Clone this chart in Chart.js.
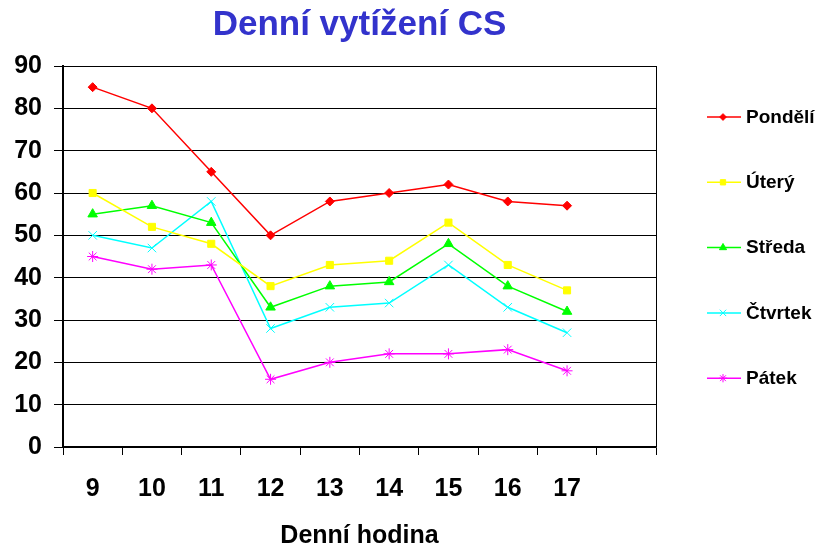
<!DOCTYPE html>
<html lang="cs">
<head>
<meta charset="utf-8">
<title>Denní vytížení CS</title>
<script src="https://cdn.jsdelivr.net/npm/chart.js@4/dist/chart.umd.min.js"></script>
<style>
  html, body { margin: 0; padding: 0; background: #fff; }
  #wrap { width: 818px; height: 547px; }
</style>
</head>
<body>
<div id="wrap"><canvas id="load-chart"></canvas></div>
<script>
'use strict';

// hodiny (poslední kategorie je prázdná, jako v originálu)
const hours    = ['9', '10', '11', '12', '13', '14', '15', '16', '17', ''];
const dayNames = ['Pondělí', 'Úterý', 'Středa', 'Čtvrtek', 'Pátek'];
const pondeli  = [85, 80, 65, 50, 58, 60, 62, 58, 57];
const utery    = [60, 52, 48, 38, 43, 44, 53, 43, 37];
const streda   = [55, 57, 53, 33, 38, 39, 48, 38, 32];
const ctvrtek  = [50, 47, 58, 28, 33, 34, 43, 33, 27];
const patek    = [45, 42, 43, 16, 20, 22, 22, 23, 18];
const yMin = 0, yMax = 90, yStep = 10;

const FONT = '"Liberation Sans", Arial, sans-serif';
const colors  = ['#FF0000', '#FFFF00', '#00FF00', '#00FFFF', '#FF00FF'];
const markers = ['rectRot', 'rect', 'triangle', 'crossRot', 'star'];
const radii   = [4.5, 5, 5.5, 6, 5.5];

// legenda s čárou a značkou (Excel styl) + pravý okraj grafu
const lineLegend = {
  id: 'lineLegend',
  afterDraw(chart) {
    const { ctx, chartArea } = chart;
    ctx.save();
    ctx.strokeStyle = '#000';
    ctx.lineWidth = 1;
    ctx.beginPath();
    ctx.moveTo(chartArea.right + 0.5, chartArea.top);
    ctx.lineTo(chartArea.right + 0.5, chartArea.bottom);
    ctx.stroke();

    const x0 = chartArea.right + 51;
    chart.data.datasets.forEach((ds, i) => {
      const y = chartArea.top + 51 + i * 65.3;
      ctx.strokeStyle = ds.borderColor;
      ctx.fillStyle = ds.borderColor;
      ctx.lineWidth = 1.5;
      ctx.beginPath();
      ctx.moveTo(x0, y);
      ctx.lineTo(x0 + 34, y);
      ctx.stroke();
      ctx.lineWidth = 1;
      Chart.helpers.drawPoint(ctx, { pointStyle: ds.pointStyle, radius: ds.pointRadius * 0.75, rotation: 0, borderWidth: 1 }, x0 + 16, y);
      ctx.fillStyle = '#000';
      ctx.font = 'bold 19px ' + FONT;
      ctx.textAlign = 'left';
      ctx.textBaseline = 'middle';
      ctx.fillText(ds.label, x0 + 39, y + 0.5);
    });
    ctx.restore();
  }
};

function makeDataset(i, values) {
  return {
    label: dayNames[i],
    data: values,
    borderColor: colors[i],
    backgroundColor: colors[i],
    pointBackgroundColor: colors[i],
    pointBorderColor: colors[i],
    borderWidth: 1.5,
    pointStyle: markers[i],
    pointRadius: radii[i],
    pointBorderWidth: 1,
    tension: 0
  };
}

new Chart(document.getElementById('load-chart'), {
  type: 'line',
  data: {
    labels: hours,
    datasets: [pondeli, utery, streda, ctvrtek, patek].map((v, i) => makeDataset(i, v))
  },
  options: {
    responsive: true, maintainAspectRatio: false, animation: false,
    layout: { padding: { left: 0, right: 162, top: 0, bottom: 0 } },
    plugins: {
      legend: { display: false },
      tooltip: { enabled: false },
      title: {
        display: true, fullSize: false,
        text: 'Denní vytížení CS',
        color: '#3333CC',
        font: { family: FONT, size: 35, weight: 'bold', lineHeight: 1.2 },
        padding: { top: 4, bottom: 20 }
      }
    },
    scales: {
      x: {
        offset: true,
        grid: { display: true, drawOnChartArea: false, drawTicks: true, tickLength: 8, color: '#000', offset: true },
        border: { display: true, color: '#000', width: 1.5 },
        ticks: { color: '#000', padding: 19, maxRotation: 0, autoSkip: false, font: { family: FONT, size: 25, weight: 'bold', lineHeight: 1.2 } },
        title: { display: true, text: 'Denní hodina', color: '#000', padding: 0, font: { family: FONT, size: 25, weight: 'bold', lineHeight: 0.85 } },
        afterFit: s => { s.height = 100; }
      },
      y: {
        min: yMin, max: yMax,
        grid: { color: '#000', lineWidth: 1, drawTicks: true, tickLength: 9 },
        border: { display: true, color: '#000', width: 2 },
        ticks: { stepSize: yStep, color: '#000', padding: 12, font: { family: FONT, size: 25, weight: 'bold' } },
        afterFit: s => { s.width = 63; }
      }
    }
  },
  plugins: [lineLegend]
});
</script>
</body>
</html>
